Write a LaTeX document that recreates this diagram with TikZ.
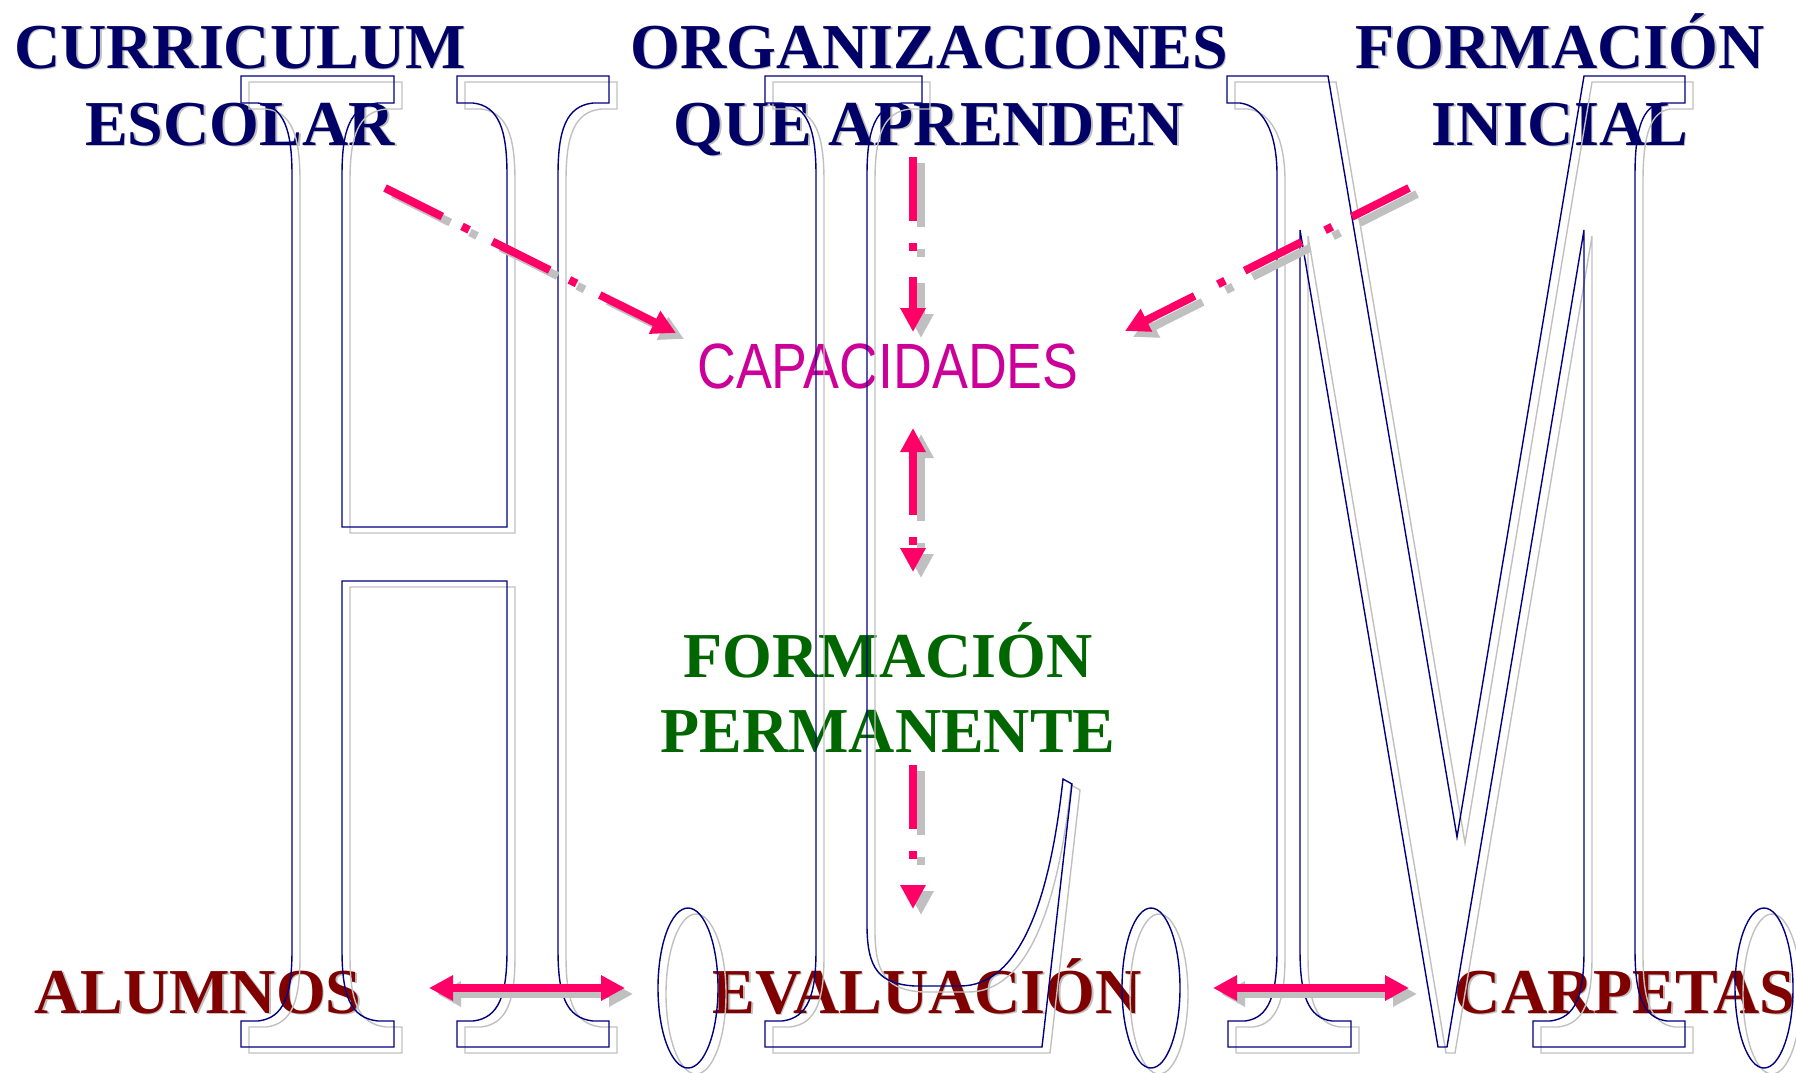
\documentclass[tikz,border=0pt]{standalone}
\usepackage{fontspec}
\setmainfont{Liberation Serif}
\newfontfamily\narrowsans[FakeStretch=0.84]{Liberation Sans}
\usetikzlibrary{arrows.meta}
\definecolor{titleblue}{RGB}{0,0,102}
\definecolor{outlineblue}{RGB}{0,0,128}
\definecolor{arrowpink}{RGB}{255,0,102}
\definecolor{capmagenta}{RGB}{204,0,153}
\definecolor{permgreen}{RGB}{0,102,0}
\definecolor{footred}{RGB}{128,0,0}
\definecolor{shadowgray}{RGB}{192,192,192}
\newcommand\shtext[1]{\makebox[0pt][l]{\hspace{1.6pt}\raisebox{-1.6pt}{\color{shadowgray}#1}}#1}
\newcommand\letterH{(241,76) -- (394,76) -- (394,103) -- (378,103)
 .. controls (350,106) and (342,130) .. (342,175) -- (342,527) -- (507,527)
 -- (507,175) .. controls (507,130) and (499,106) .. (473,103) -- (457,103)
 -- (457,76) -- (609,76) -- (609,103) -- (593,103)
 .. controls (566,106) and (558,130) .. (558,175) -- (558,950)
 .. controls (558,995) and (566,1018) .. (593,1021) -- (609,1021)
 -- (609,1047) -- (457,1047) -- (457,1021) -- (473,1021)
 .. controls (499,1018) and (507,995) .. (507,950) -- (507,581) -- (342,581)
 -- (342,950) .. controls (342,995) and (350,1018) .. (378,1021) -- (394,1021)
 -- (394,1047) -- (241,1047) -- (241,1021) -- (258,1021)
 .. controls (284,1018) and (292,995) .. (292,950) -- (292,175)
 .. controls (292,130) and (284,106) .. (258,103) -- (241,103) -- cycle}
\newcommand\letterL{(765,76) -- (922,76) -- (922,103) -- (902,103)
 .. controls (875,106) and (867,130) .. (867,175) -- (867,925)
 .. controls (867,970) and (880,984) .. (915,986) -- (960,986)
 .. controls (1020,986) and (1050,900) .. (1063,779) -- (1072,784)
 -- (1042,1047) -- (765,1047) -- (765,1021) -- (782,1021)
 .. controls (808,1018) and (816,995) .. (816,950) -- (816,175)
 .. controls (816,130) and (808,106) .. (782,103) -- (765,103) -- cycle}
\newcommand\letterM{(1227,76) -- (1328,76) -- (1457,837) -- (1584,76) -- (1685,76)
 -- (1685,103) -- (1662,103) .. controls (1642,106) and (1635,130) .. (1635,175)
 -- (1635,950) .. controls (1635,995) and (1643,1018) .. (1667,1021)
 -- (1685,1021) -- (1685,1047) -- (1533,1047) -- (1533,1021) -- (1550,1021)
 .. controls (1576,1018) and (1584,995) .. (1584,950) -- (1584,230)
 -- (1447,1047) -- (1438,1047) -- (1300,230) -- (1300,950)
 .. controls (1300,995) and (1308,1018) .. (1332,1021) -- (1351,1021)
 -- (1351,1047) -- (1228,1047) -- (1228,1021) -- (1245,1021)
 .. controls (1269,1018) and (1277,995) .. (1277,950) -- (1277,175)
 .. controls (1277,130) and (1262,106) .. (1240,103) -- (1227,103) -- cycle}
\newcommand\periodmarks{(688,988) ellipse [x radius=30, y radius=80]
 (1151,988) ellipse [x radius=29, y radius=80]
 (1764,988) ellipse [x radius=29, y radius=80]}
\tikzset{
 bigtext/.style={font=\fontsize{64}{77}\selectfont\bfseries, anchor=base, inner sep=0pt},
 titletext/.style={bigtext, text=titleblue},
 foottext/.style={bigtext, text=footred},
 permtext/.style={bigtext, text=permgreen},
 captext/.style={font=\fontsize{64}{77}\selectfont\narrowsans, anchor=base, inner sep=0pt, text=capmagenta},
 pinktip/.tip={Triangle[length=24pt,width=24pt]},
 ddarrow/.style={line width=8pt, dash pattern=on 64pt off 22pt on 8pt off 26pt, -pinktip},
 ddboth/.style={ddarrow, pinktip-pinktip},
 solidboth/.style={line width=8pt, pinktip-pinktip}
}
\begin{document}
\begin{tikzpicture}[x=1pt,y=-1pt]
 \useasboundingbox (0,0) rectangle (1796,1073);
 \foreach \x/\y/\name/\txt in {240/68/cur/CURRICULUM, 240/145/esc/ESCOLAR,
 	929/68/org/ORGANIZACIONES, 929/145/que/QUE APRENDEN,
 	1560/68/for/FORMACIÓN, 1560/145/ini/INICIAL}
 \node[titletext] (\name) at (\x,\y) {\shtext{\txt}};
 \node[captext] (cap) at (888,388) {CAPACIDADES};
 \node[permtext] (perm1) at (888,677) {FORMACIÓN};
 \node[permtext] (perm2) at (888,752) {PERMANENTE};
 \foreach \x/\name/\txt in {198/alu/ALUMNOS, 927/eva/EVALUACIÓN, 1625/car/CARPETAS}
 \node[foottext] (\name) at (\x,1013) {\shtext{\txt}};
 \foreach \dx/\dy/\col in {8/6/shadowgray, 0/0/outlineblue}
 \draw[\col, line width=1.4pt, shift={(\dx,\dy)}] \letterH \letterL \letterM \periodmarks;
 \coordinate (cur-out) at (385,188); \coordinate (cap-in-l) at (676,333);
 \coordinate (org-out) at (913,157); \coordinate (cap-in-t) at (913,332);
 \coordinate (ini-out) at (1409,188); \coordinate (cap-in-r) at (1125,331);
 \coordinate (cap-out) at (913,428); \coordinate (perm-in) at (913,572);
 \coordinate (perm-out) at (913,765); \coordinate (eva-in) at (913,909);
 \coordinate (alu-r) at (429,988); \coordinate (eva-l) at (625,988);
 \coordinate (eva-r) at (1213,988); \coordinate (car-l) at (1409,988);
 \foreach \dx/\dy/\col in {8/-6/shadowgray, 0/0/arrowpink}{
 	\begin{scope}[transform canvas={xshift=\dx pt,yshift=\dy pt}, color=\col]
 		\draw[ddarrow] (cur-out) -- (cap-in-l);
 		\draw[ddarrow] (org-out) -- (cap-in-t);
 		\draw[ddarrow] (ini-out) -- (cap-in-r);
 		\draw[ddboth] (cap-out) -- (perm-in);
 		\draw[ddarrow] (perm-out) -- (eva-in);
 		\draw[solidboth] (alu-r) -- (eva-l);
 		\draw[solidboth] (eva-r) -- (car-l);
 	\end{scope}
 }
\end{tikzpicture}
\end{document}
